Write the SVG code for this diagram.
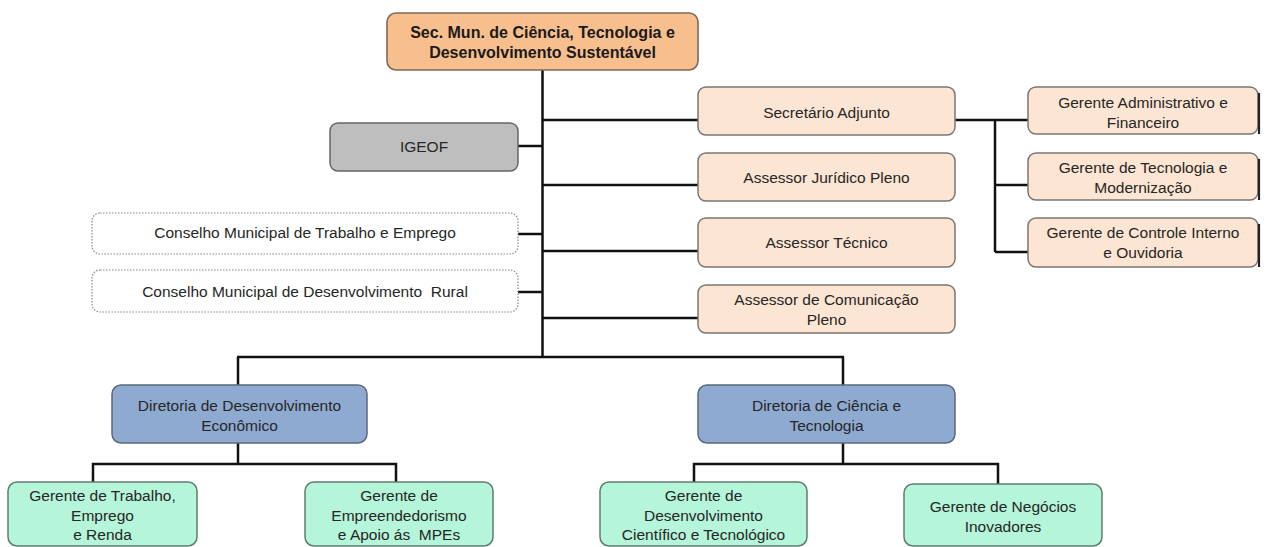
<svg xmlns="http://www.w3.org/2000/svg" width="1268" height="547" viewBox="0 0 1268 547">
<style>
text{font-family:"Liberation Sans",Arial,sans-serif;font-size:15.5px;fill:#262626;text-anchor:middle}
.t{font-weight:bold;font-size:16px;fill:#1a1a1a}
.top{fill:#F8BF8E;stroke:#7d6a5a;stroke-width:1.6}
.peach{fill:#FCE5D3;stroke:#7a7671;stroke-width:1.5}
.grey{fill:#BEBEBE;stroke:#666;stroke-width:1.5}
.dot{fill:#fff;stroke:#888;stroke-width:1.2;stroke-dasharray:1.5 1.5}
.blue{fill:#8FAAD1;stroke:#5b6a7e;stroke-width:1.5}
.green{fill:#B5F5D9;stroke:#5f7d70;stroke-width:1.5}
.sh{stroke:#222;stroke-width:2.2;fill:none}
#connectors path{stroke:#111;stroke-width:2.5;fill:none}
</style>
<g id="connectors">
<path d="M542.5 70 V357"/>
<path d="M237 357 H844"/>
<path d="M238 357 V385"/>
<path d="M843 357 V385"/>
<path d="M518 146 H542"/>
<path d="M518 234 H542"/>
<path d="M518 292 H542"/>
<path d="M542 120 H698"/>
<path d="M542 185 H698"/>
<path d="M542 251 H698"/>
<path d="M542 318 H698"/>
<path d="M955 120 H1028"/>
<path d="M995 120 V252"/>
<path d="M995 185 H1028"/>
<path d="M995 252 H1028"/>
<path d="M238 443 V464"/>
<path d="M93 482 V464 H396 V482"/>
<path d="M843 443 V464"/>
<path d="M694 482 V464 H998 V484"/>
</g>
<g id="n-sec">
<rect class="top" x="387" y="13" width="311" height="57" rx="9"/>
<text class="t" x="542.5" y="38">Sec. Mun. de Ciência, Tecnologia e</text>
<text class="t" x="542.5" y="58">Desenvolvimento Sustentável</text>
</g>
<g id="n-sa">
<rect class="peach" x="698" y="87" width="257" height="48" rx="8"/>
<text x="826.5" y="118">Secretário Adjunto</text>
</g>
<g id="n-aj">
<rect class="peach" x="698" y="153" width="257" height="48" rx="8"/>
<text x="826.5" y="183">Assessor Jurídico Pleno</text>
</g>
<g id="n-at">
<rect class="peach" x="698" y="218" width="257" height="49" rx="8"/>
<text x="826.5" y="248">Assessor Técnico</text>
</g>
<g id="n-ac">
<rect class="peach" x="698" y="285" width="257" height="48" rx="8"/>
<text x="826.5" y="305">Assessor de Comunicação</text>
<text x="826.5" y="325">Pleno</text>
</g>
<g id="n-g1">
<rect class="peach" x="1028" y="87" width="230" height="47" rx="8"/>
<path class="sh" d="M1259 93 V134"/>
<text x="1143" y="108">Gerente Administrativo e</text>
<text x="1143" y="128">Financeiro</text>
</g>
<g id="n-g2">
<rect class="peach" x="1028" y="153" width="230" height="47" rx="8"/>
<path class="sh" d="M1259 159 V200"/>
<text x="1143" y="173">Gerente de Tecnologia e</text>
<text x="1143" y="193">Modernização</text>
</g>
<g id="n-g3">
<rect class="peach" x="1028" y="218" width="230" height="49" rx="8"/>
<path class="sh" d="M1259 224 V267"/>
<text x="1143" y="238">Gerente de Controle Interno</text>
<text x="1143" y="258">e Ouvidoria</text>
</g>
<g id="n-igeof">
<rect class="grey" x="330" y="123" width="188" height="48" rx="8"/>
<text x="424" y="152">IGEOF</text>
</g>
<g id="n-ct">
<rect class="dot" x="92" y="213" width="426" height="41" rx="8"/>
<text x="305" y="238">Conselho Municipal de Trabalho e Emprego</text>
</g>
<g id="n-cr">
<rect class="dot" x="92" y="270" width="426" height="42" rx="8"/>
<text x="305" y="297" xml:space="preserve">Conselho Municipal de Desenvolvimento  Rural</text>
</g>
<g id="n-dde">
<rect class="blue" x="112" y="385" width="255" height="58" rx="9"/>
<text x="239.5" y="411">Diretoria de Desenvolvimento</text>
<text x="239.5" y="431">Econômico</text>
</g>
<g id="n-dct">
<rect class="blue" x="698" y="385" width="257" height="58" rx="9"/>
<text x="826.5" y="411">Diretoria de Ciência e</text>
<text x="826.5" y="431">Tecnologia</text>
</g>
<g id="n-gt">
<rect class="green" x="8" y="482" width="189" height="64" rx="9"/>
<text x="102.5" y="501">Gerente de Trabalho,</text>
<text x="102.5" y="521">Emprego</text>
<text x="102.5" y="540">e Renda</text>
</g>
<g id="n-ge">
<rect class="green" x="305" y="482" width="188" height="64" rx="9"/>
<text x="399" y="501">Gerente de</text>
<text x="399" y="521">Empreendedorismo</text>
<text x="399" y="540" xml:space="preserve">e Apoio ás  MPEs</text>
</g>
<g id="n-gd">
<rect class="green" x="600" y="482" width="207" height="64" rx="9"/>
<text x="703.5" y="501">Gerente de</text>
<text x="703.5" y="521">Desenvolvimento</text>
<text x="703.5" y="540">Científico e Tecnológico</text>
</g>
<g id="n-gn">
<rect class="green" x="904" y="484" width="198" height="62" rx="9"/>
<text x="1003" y="512">Gerente de Negócios</text>
<text x="1003" y="532">Inovadores</text>
</g>
</svg>
